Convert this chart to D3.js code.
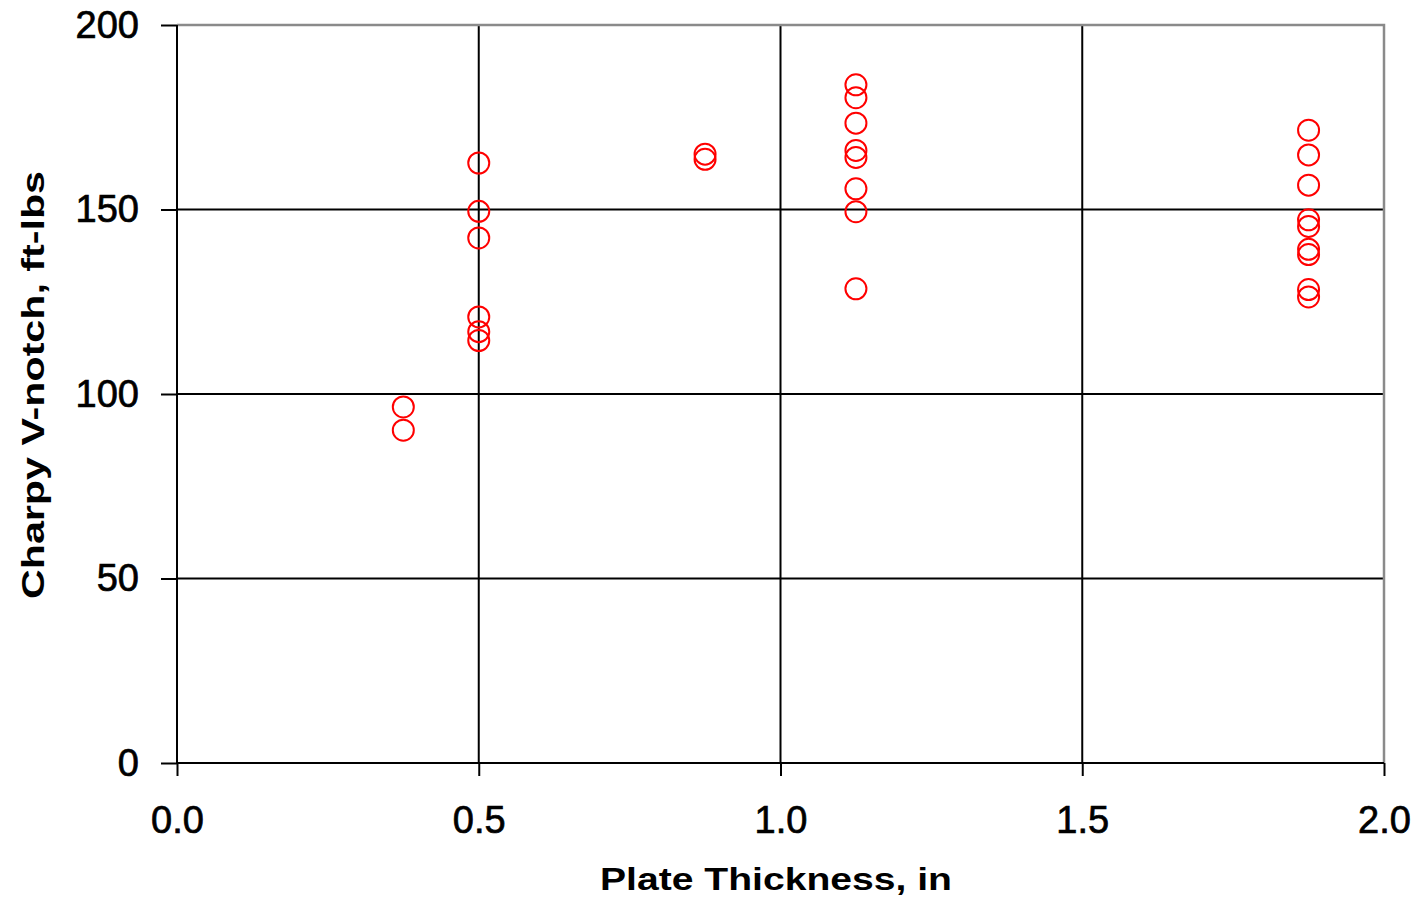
<!DOCTYPE html>
<html>
<head>
<meta charset="utf-8">
<script src="https://cdn.jsdelivr.net/npm/d3@7"></script>
<style>
    body { margin: 0; background: #fff; }
    text { font-family: "Liberation Sans", Arial, sans-serif; fill: #000; }
</style>
</head>
<body>
<div id="the_chart"></div>
<script>
// plate thickness (in) for each specimen
var thickness = [
    0.375, 0.375,
    0.5, 0.5, 0.5, 0.5, 0.5, 0.5,
    0.875, 0.875,
    1.125, 1.125, 1.125, 1.125, 1.125, 1.125, 1.125, 1.125,
    1.875, 1.875, 1.875, 1.875, 1.875, 1.875, 1.875, 1.875, 1.875
];
// Charpy V-notch energy, ft-lbs
var charpy = [
    96.5, 90.2,
    162.6, 149.5, 142.3, 120.9, 116.9, 114.5,
    165.0, 163.6,
    183.8, 180.3, 173.4, 166.0, 164.1, 155.6, 149.4, 128.5,
    171.5, 164.8, 156.6, 147.2, 145.4, 139.2, 137.8, 128.3, 126.3
];
var xTicks = [0, 0.5, 1.0, 1.5, 2.0];
var yTicks = [0, 50, 100, 150, 200];
var xTitle = "Plate Thickness, in";
var yTitle = "Charpy V-notch, ft-lbs";

var w = 1416, h = 902;
// plot area edges (window.top is reserved, so prefix them)
var pLeft = 177, pRight = 1384, pTop = 25, pBottom = 763;

var xscale = d3.scaleLinear().domain([0, 2]).range([pLeft, pRight]);
var yscale = d3.scaleLinear().domain([0, 200]).range([pBottom, pTop]);

var svg = d3.select("#the_chart")
    .append("svg")
    .attr("width", w)
    .attr("height", h);

// grid lines
svg.selectAll("line.hgrid")
    .data(yTicks.filter(d => d > 0 && d < 200))
    .enter().append("line")
    .attr("x1", pLeft).attr("x2", pRight)
    .attr("y1", d => yscale(d)).attr("y2", d => yscale(d))
    .attr("stroke", "#000").attr("stroke-width", 2);
svg.selectAll("line.vgrid")
    .data(xTicks.filter(d => d > 0 && d < 2))
    .enter().append("line")
    .attr("y1", pTop).attr("y2", pBottom)
    .attr("x1", d => xscale(d)).attr("x2", d => xscale(d))
    .attr("stroke", "#000").attr("stroke-width", 2);

// plot area frame (top and right are grey)
svg.append("path")
    .attr("d", "M" + pLeft + "," + yscale(200) + "H" + xscale(2) + "V" + pBottom)
    .attr("fill", "none")
    .attr("stroke", "#8a8a8a")
    .attr("stroke-width", 2.5);

// axes
var yaxis = d3.axisLeft(yscale).tickValues(yTicks).tickSize(16).tickPadding(22).tickFormat(d3.format("d"));
var gy = svg.append("g")
    .attr("transform", "translate(" + pLeft + ",0)")
    .call(yaxis);
var xaxis = d3.axisBottom(xscale).tickValues(xTicks).tickSize(13).tickPadding(30).tickFormat(d3.format(".1f"));
var gx = svg.append("g")
    .attr("transform", "translate(0," + pBottom + ")")
    .call(xaxis);

[gx, gy].forEach(g => {
    g.select(".domain").attr("stroke", "#000").attr("stroke-width", 2);
    g.selectAll(".tick line").attr("stroke", "#000").attr("stroke-width", 2);
    g.selectAll(".tick text")
        .style("font-family", "'Liberation Sans', Arial, sans-serif")
        .style("font-size", "38px")
        .attr("fill", "#000")
        .attr("stroke", "#000")
        .attr("stroke-width", 0.7);
});
gx.select(".domain").attr("d", "M" + pLeft + ",0H" + pRight);
gy.select(".domain").attr("d", "M0," + pTop + "V" + pBottom);

// data points
svg.selectAll("circle")
    .data(charpy)
    .enter().append("circle")
    .attr("cx", (d, i) => xscale(thickness[i]))
    .attr("cy", d => yscale(d))
    .attr("r", 10.5)
    .attr("fill", "none")
    .attr("stroke", "#ff0000")
    .attr("stroke-width", 2);

// axis titles
svg.append("text")
    .attr("x", 776)
    .attr("y", 890)
    .attr("text-anchor", "middle")
    .attr("textLength", 352)
    .attr("lengthAdjust", "spacingAndGlyphs")
    .style("font-size", "31px")
    .style("font-weight", "bold")
    .text(xTitle);

svg.append("text")
    .attr("transform", "translate(44,385) rotate(-90)")
    .attr("text-anchor", "middle")
    .attr("textLength", 428)
    .attr("lengthAdjust", "spacingAndGlyphs")
    .style("font-size", "32px")
    .style("font-weight", "bold")
    .text(yTitle);
</script>
</body>
</html>
